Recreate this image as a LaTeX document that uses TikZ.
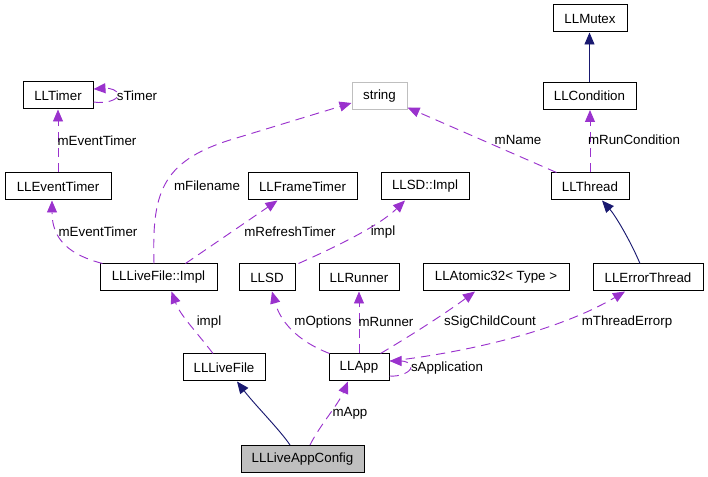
\documentclass[tikz,border=0pt]{standalone}
\usepackage{fontspec}
\setmainfont{Liberation Sans}
\usetikzlibrary{arrows.meta,calc}
\definecolor{usecol}{HTML}{9A32CD}
\definecolor{inhcol}{HTML}{191970}
\definecolor{strgray}{HTML}{BFBFBF}
\definecolor{cfgfill}{HTML}{BFBFBF}
\begin{document}
\begin{tikzpicture}[x=0.75pt,y=-0.75pt,
  cls/.style={draw=black, line width=0.75pt, inner sep=0pt, minimum height=20.25pt, font=\fontsize{10}{12}\selectfont, anchor=center},
  lbl/.style={inner sep=0pt, font=\fontsize{10}{12}\selectfont},
  use/.style={draw=usecol, dash pattern=on 7pt off 4.5pt, line width=0.7pt, -{Triangle[length=9pt,width=7.5pt]}},
  inh/.style={draw=inhcol, line width=0.7pt, -{Triangle[length=9pt,width=7.5pt]}}]
\useasboundingbox (0,0) rectangle (708,477);

% nodes
\node[cls, minimum width=55.5pt] (mutex) at (590,18.5) {LLMutex};
\node[cls, minimum width=69.75pt] (cond) at (589.5,96) {LLCondition};
\node[cls, minimum width=58.5pt] (thread) at (590,186.5) {LLThread};
\node[cls, minimum width=52.5pt] (timer) at (58,95.5) {LLTimer};
\node[cls, minimum width=79.5pt] (etimer) at (58,186.5) {LLEventTimer};
\node[cls, draw=strgray, minimum width=41.25pt] (string) at (379.5,96) {string};
\node[cls, minimum width=81.75pt] (ftimer) at (302.5,186.5) {LLFrameTimer};
\node[cls, minimum width=66pt] (sdimpl) at (425,186.5) {LLSD::Impl};
\node[cls, minimum width=87.75pt] (lfimpl) at (158.5,277.5) {LLLiveFile::Impl};
\node[cls, minimum width=42pt] (llsd) at (267,277.5) {LLSD};
\node[cls, minimum width=60pt] (runner) at (359,277.5) {LLRunner};
\node[cls, minimum width=109.5pt] (atomic) at (496,277.5) {LLAtomic32< Type >};
\node[cls, minimum width=82.5pt] (errthread) at (648,277.5) {LLErrorThread};
\node[cls, minimum width=61.5pt] (livefile) at (224,367.5) {LLLiveFile};
\node[cls, minimum width=45pt] (app) at (359,367.5) {LLApp};
\node[cls, fill=cfgfill, minimum width=92.25pt] (config) at (302.5,459) {LLLiveAppConfig};

% inheritance
\draw[inh] (cond.north) -- (cond.north |- mutex.south);
\draw[inh] ($(errthread.north)+(-8,0)$) .. controls (630,240) and (615,215) .. ($(thread.south)+(12,0)$);
\draw[inh] ($(config.north)+(-12.5,0)$) .. controls (280,430) and (255,405) .. ($(livefile.south)+(13,0)$);

% usage
\draw[use] (thread.north) -- (thread.north |- cond.south);
\node[lbl] (l1) at (634,140) {mRunCondition};

\draw[use] ($(thread.north west)+(6,0)$) -- ($(string.south east)+(0,-2.5)$);
\node[lbl] (l2) at (518,140) {mName};

\draw[use] ($(lfimpl.north)+(-4.5,0)$) .. controls (152,195) and (160,162) .. (230,140) -- ($(string.west)+(0,7)$);
\node[lbl] (l3) at (207,186) {mFilename};

\draw[use] (etimer.north) -- (timer.south);
\node[lbl] (l4) at (97,141) {mEventTimer};

\draw[use] ($(timer.east)+(0,6.5)$) .. controls (105,104) and (118,100) .. (118,95) .. controls (118,90) and (110,88) .. ($(timer.east)+(0,-6.5)$);
\node[lbl] (l5) at (137,96) {sTimer};

\draw[use] ($(lfimpl.north west)+(3,0)$) .. controls (70,255) and (52,240) .. ($(etimer.south)+(-6,0)$);
\node[lbl] (l6) at (98,232) {mEventTimer};

\draw[use] ($(lfimpl.north)+(27,0)$) -- ($(ftimer.south)+(-25,0)$);
\node[lbl] (l7) at (290,232) {mRefreshTimer};

\draw[use] ($(llsd.north east)+(3,0)$) .. controls (340,245) and (380,225) .. ($(sdimpl.south)+(-20,0)$);
\node[lbl] (l8) at (383,232) {impl};

\draw[use] ($(livefile.north)+(-11,0)$) .. controls (195,330) and (180,315) .. ($(lfimpl.south)+(13,0)$);
\node[lbl] (l9) at (209,322) {impl};

\draw[use] ($(app.north west)+(1,0)$) .. controls (295,340) and (280,320) .. ($(llsd.south)+(5,0)$);
\node[lbl] (l10) at (323,322) {mOptions};

\draw[use] (app.north) -- (runner.south);
\node[lbl] (l11) at (386,322) {mRunner};

\draw[use] ($(app.north east)+(-9,0)$) .. controls (420,330) and (450,310) .. ($(atomic.south)+(-21,0)$);
\node[lbl] (l12) at (490,322) {sSigChildCount};

\draw[use] ($(app.east)+(1,-6.5)$) .. controls (470,352) and (560,330) .. ($(errthread.south)+(-23,0)$);
\node[lbl] (l13) at (627,322) {mThreadErrorp};

\draw[use] ($(app.east)+(0,8.5)$) .. controls (400,377) and (411,372) .. (411,367) .. controls (411,363) and (405,361) .. ($(app.east)+(0,-6.5)$);
\node[lbl] (l14) at (447,368) {sApplication};

\draw[use] ($(config.north)+(7.5,0)$) .. controls (320,425) and (338,405) .. ($(app.south)+(-11,0)$);
\node[lbl] (l15) at (350,413) {mApp};
\end{tikzpicture}
\end{document}
